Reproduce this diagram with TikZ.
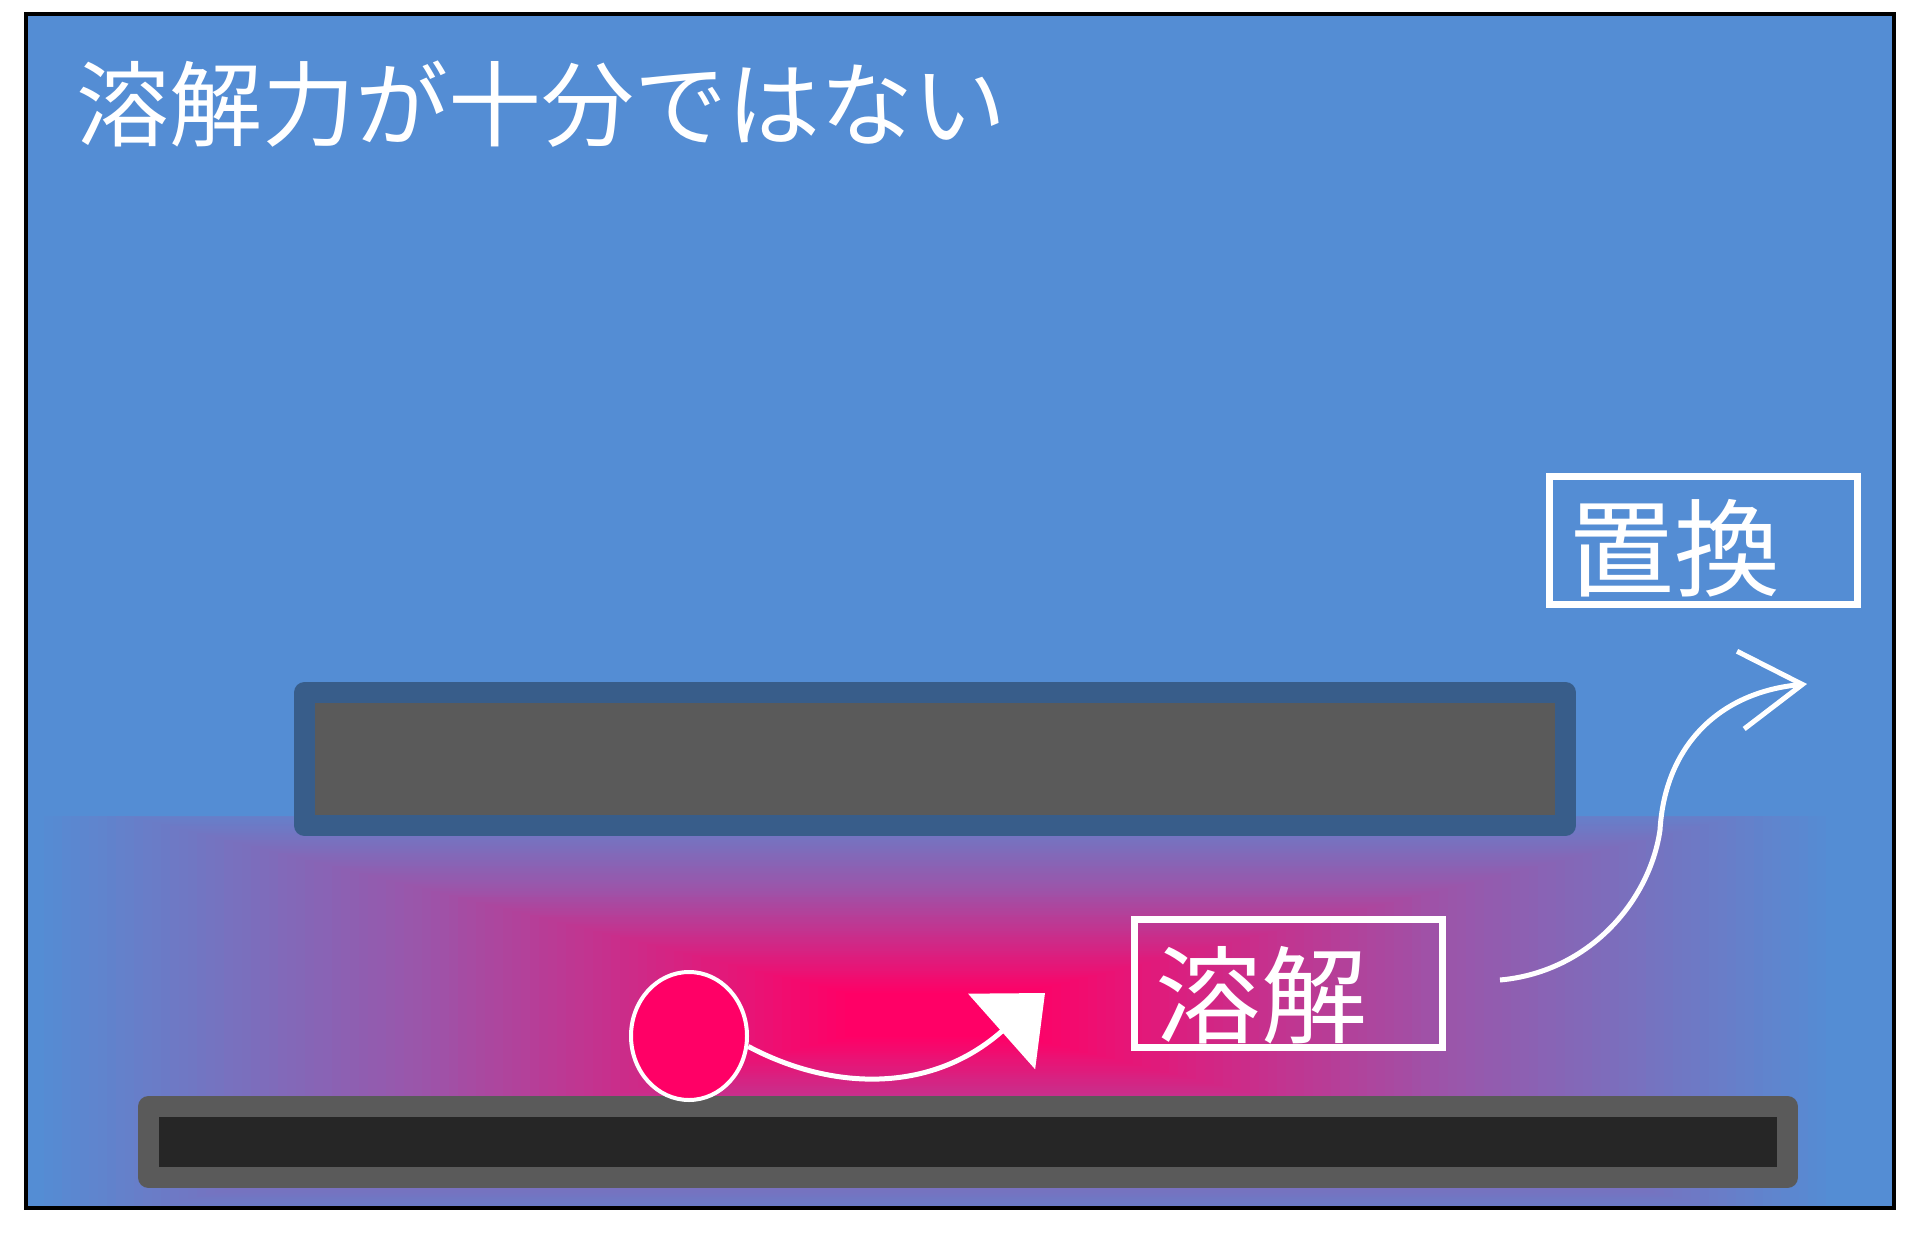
\documentclass[tikz,border=0pt]{standalone}
\usepackage{fontspec}
\newfontfamily\jp{Noto Sans CJK JP}
\usetikzlibrary{arrows.meta,shapes.geometric}
\definecolor{bgblue}{HTML}{548DD4}
\definecolor{pinkc}{HTML}{FF0066}
\definecolor{midB}{RGB}{155,85,170}
\definecolor{barblue}{HTML}{385D8A}
\definecolor{grayfill}{HTML}{5A5A5A}
\definecolor{darkfill}{HTML}{262626}
\begin{document}
\begin{tikzpicture}[x=1pt,y=-1pt,
  titletext/.style={text=white, inner sep=0, font={\jp\fontsize{93}{100}\selectfont}},
  labtext/.style={text=white, inner sep=0, font={\jp\fontsize{106}{110}\selectfont}},
  labbox/.style={draw=white, line width=7, inner sep=0, minimum width=308, minimum height=128},
  barbox/.style={line width=21, line join=round, inner sep=0},
  flow/.style={draw=white, line width=5}
]
\useasboundingbox (0,0) rectangle (1920,1247);
\fill[white] (0,0) rectangle (1920,1247);
% frame background
\fill[bgblue] (26,14) rectangle (1894,1208);
% glow region: rectangular gradient from the centre
\begin{scope}
  \clip (28,816) rectangle (1892,1206);
  \foreach \m in {100,99,...,8} {
    \pgfmathsetmacro{\hw}{9*\m}
    \pgfmathsetmacro{\hh}{2.22*\m}
    \ifnum\m>57
      \pgfmathtruncatemacro{\p}{(\m-57.3)/42.7*100}
      \colorlet{cc}{bgblue!\p!midB}
    \else\ifnum\m>10
      \pgfmathtruncatemacro{\p}{(\m-10)/47.3*100}
      \colorlet{cc}{midB!\p!pinkc}
    \else
      \colorlet{cc}{pinkc}
    \fi\fi
    \fill[cc] ({935-\hw},{1015-\hh}) rectangle ({935+\hw},{1015+\hh});
  }
\end{scope}
% title
\node[titletext, anchor=base west] (title) at (76,139) {溶解力が十分ではない};
% upper bar
\node[barbox, draw=barblue, fill=grayfill, minimum width=1261, minimum height=133] (mask) at (935,759) {};
% lower bar
\node[barbox, draw=grayfill, fill=darkfill, minimum width=1639, minimum height=71] (base) at (968,1142) {};
% molecule
\node[ellipse, draw=white, line width=4, fill=pinkc, minimum width=116, minimum height=128, inner sep=0] (mol) at (689,1036) {};
% boxes
\node[labbox] (yokai) at (1288,983.5) {};
\node[labtext, anchor=base west] (yokaiT) at (1155,1035) {溶解};
\node[labbox] (chikan) at (1703.5,540.5) {};
\node[labtext, anchor=base west] (chikanT) at (1568,588) {置換};
% arrows
\coordinate (tipL) at (1045,993);
\coordinate (startR) at (1500,980);
\coordinate (tipR) at (1807,684);
\draw[flow, -{Triangle[length=58pt,width=100pt]}] (mol.-10) .. controls (830,1090) and (930,1095) .. (tipL);
\draw[flow, -{Straight Barb[length=62pt,width=78pt]}] (startR) .. controls (1590,972) and (1650,900) .. (1660,830) .. controls (1665,745) and (1720,692) .. (tipR);
% frame border
\draw[black, line width=4] (26,14) rectangle (1894,1208);
\end{tikzpicture}
\end{document}
